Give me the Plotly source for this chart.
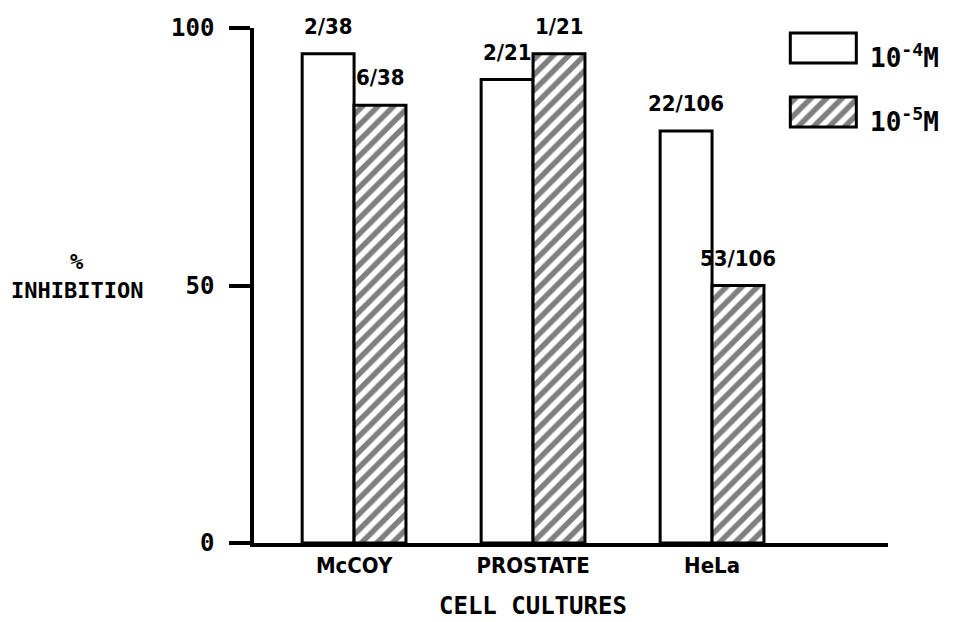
import plotly.graph_objects as go

# Data
cultures = ["McCOY", "PROSTATE", "HeLa"]
conc_labels = ["10<sup>-4</sup>M", "10<sup>-5</sup>M"]
inhib_1e4 = [95, 90, 80]
inhib_1e5 = [85, 95, 50]
counts_1e4 = ["2/38", "2/21", "22/106"]
counts_1e5 = ["6/38", "1/21", "53/106"]
y_ticks = [0, 50, 100]

MONO = "DejaVu Sans Mono, Liberation Mono, monospace"
COND = "DejaVu Sans Condensed, Liberation Sans Narrow, DejaVu Sans, sans-serif"

W = 0.29          # width of each bar in category units
pos = list(range(len(cultures)))

plain = dict(color="white", line=dict(color="black", width=3))
hatched = dict(color="white", line=dict(color="black", width=3),
               pattern=dict(shape="/", fgcolor="black", bgcolor="white",
                            size=11, solidity=0.5))

fig = go.Figure()
fig.add_trace(go.Bar(x=pos, y=inhib_1e4, width=W, offset=-W,
                     marker=plain, name="1e-4 M"))
fig.add_trace(go.Bar(x=pos, y=inhib_1e5, width=W, offset=0,
                     marker=hatched, name="1e-5 M"))

# Key boxes drawn as a small inset bar chart
KEY_H = 0.469
fig.add_trace(go.Bar(x=[1], y=[1], base=0, orientation="h", width=KEY_H,
                     marker=plain, xaxis="x2", yaxis="y2"))
fig.add_trace(go.Bar(x=[1], y=[0], base=0, orientation="h", width=KEY_H,
                     marker=hatched, xaxis="x2", yaxis="y2"))

annotations = []
label_font = dict(family=COND, size=22, color="black", weight="bold")
for i in pos:
    annotations.append(dict(x=i - W / 2, y=inhib_1e4[i], text=counts_1e4[i],
                            xref="x", yref="y", showarrow=False,
                            xanchor="center", yanchor="bottom", yshift=13,
                            font=label_font))
    annotations.append(dict(x=i + W / 2, y=inhib_1e5[i], text=counts_1e5[i],
                            xref="x", yref="y", showarrow=False,
                            xanchor="center", yanchor="bottom", yshift=13,
                            font=label_font))

key_font = dict(family=MONO, size=26, color="black", weight="bold")
for yk, lab in zip([1, 0], conc_labels):
    annotations.append(dict(x=1.05, y=yk, xref="x2", yref="y2", text=lab,
                            showarrow=False, xanchor="left", yanchor="middle",
                            xshift=8, yshift=-8, font=key_font))

title_font = dict(family=MONO, size=22, color="black", weight="bold")
annotations.append(dict(x=-0.279, y=0.546, xref="paper", yref="paper",
                        text="%", showarrow=False, xanchor="center",
                        yanchor="middle", font=title_font))
annotations.append(dict(x=-0.279, y=0.491, xref="paper", yref="paper",
                        text="INHIBITION", showarrow=False, xanchor="center",
                        yanchor="middle", font=title_font))
annotations.append(dict(x=0.44, y=-0.122, xref="paper", yref="paper",
                        text="CELL CULTURES", showarrow=False,
                        xanchor="center", yanchor="middle",
                        font=dict(family=MONO, size=24, color="black", weight="bold")))

fig.update_layout(
    width=956, height=622,
    margin=dict(l=254, r=68, t=28, b=79),
    paper_bgcolor="white", plot_bgcolor="white",
    showlegend=False, hovermode=False,
    xaxis=dict(range=[-0.559, 2.983], tickvals=pos, ticktext=cultures,
               ticks="", showline=True, linewidth=3.5, linecolor="black",
               showgrid=False, zeroline=False, ticklabelstandoff=0,
               tickfont=dict(family=COND, size=22, color="black", weight="bold")),
    yaxis=dict(range=[0, 100], tickvals=y_ticks, ticks="outside", ticklen=21,
               tickwidth=3.5, tickcolor="black", showline=True, linewidth=3.5,
               linecolor="black", showgrid=False, zeroline=False,
               ticklabelstandoff=10,
               tickfont=dict(family=MONO, size=24, color="black", weight="bold")),
    xaxis2=dict(domain=[0.8407, 0.9552], range=[-0.05, 1.05], anchor="y2",
                visible=False),
    yaxis2=dict(domain=[0.7996, 0.9985], range=[-0.3, 1.3], anchor="x2",
                visible=False),
    annotations=annotations,
)

fig.write_html("out.html")
